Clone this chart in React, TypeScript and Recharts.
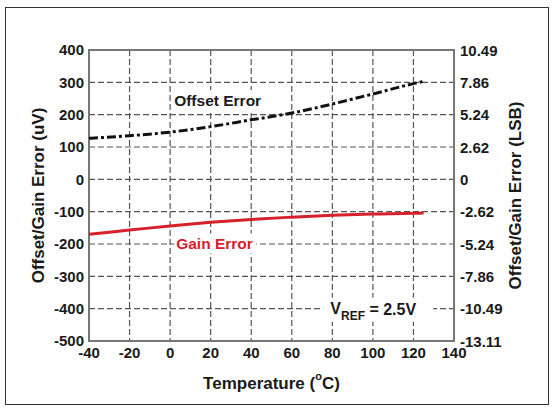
import React from 'react';
import {
  LineChart,
  Line,
  XAxis,
  YAxis,
  CartesianGrid,
  ReferenceArea,
  ReferenceDot,
} from 'recharts';

const temps = [-40, -20, 0, 20, 40, 60, 80, 100, 120, 125];
const offsetErr = [127, 135, 146, 163, 184, 205, 233, 264, 296, 303];
const gainErr = [-170, -157, -144, -133, -124, -117, -111, -107, -105, -104];
const xTicks = [-40, -20, 0, 20, 40, 60, 80, 100, 120, 140];
const yTicks = [-500, -400, -300, -200, -100, 0, 100, 200, 300, 400];
const rightTickLabels = ['-13.11', '-10.49', '-7.86', '-5.24', '-2.62', '0', '2.62', '5.24', '7.86', '10.49'];

const data = temps.map((t, i) => ({ t, offset: offsetErr[i], gain: gainErr[i] }));

const FONT = '"Liberation Sans", Arial, sans-serif';
const tickStyle = { fontFamily: FONT, fontWeight: 700, fontSize: 15, fill: '#1a1a1a' };

const LeftTitle = (props: any) => {
  const vb = props.viewBox || {};
  const cx = vb.x + 38;
  const cy = vb.y + vb.height / 2;
  return (
    <text x={cx} y={cy} transform={`rotate(-90 ${cx} ${cy})`} textAnchor="middle" dominantBaseline="central"
      style={{ fontFamily: FONT, fontWeight: 700, fontSize: 17, fill: '#1a1a1a' }}>
      Offset/Gain Error (uV)
    </text>
  );
};

const RightTitle = (props: any) => {
  const vb = props.viewBox || {};
  const cx = vb.x + 61;
  const cy = vb.y + vb.height / 2;
  return (
    <text x={cx} y={cy} transform={`rotate(-90 ${cx} ${cy})`} textAnchor="middle" dominantBaseline="central"
      style={{ fontFamily: FONT, fontWeight: 700, fontSize: 17, fill: '#1a1a1a' }}>
      Offset/Gain Error (LSB)
    </text>
  );
};

const BottomTitle = (props: any) => {
  const vb = props.viewBox || {};
  const cx = vb.x + vb.width / 2;
  const cy = vb.y + 42;
  return (
    <text x={cx} y={cy} textAnchor="middle" dominantBaseline="central"
      style={{ fontFamily: FONT, fontWeight: 700, fontSize: 17, fill: '#1a1a1a' }}>
      Temperature (<tspan fontSize={11} dy={-7}>o</tspan><tspan dy={7}>C)</tspan>
    </text>
  );
};

const RightTick = (p: any) => {
  const v = p.payload ? p.payload.value : 0;
  const label = rightTickLabels[yTicks.indexOf(v)];
  return (
    <text x={p.x} y={p.y} textAnchor="start" dominantBaseline="central" style={tickStyle}>
      {label}
    </text>
  );
};

const makeNote = (label: string, color: string, w: number) => (p: any) => (
  <g>
    <rect x={p.cx - 2} y={p.cy - 10} width={w} height={20} fill="#fff" />
    <text x={p.cx} y={p.cy} dominantBaseline="central"
      style={{ fontFamily: FONT, fontWeight: 700, fontSize: 15.5, fill: color }}>
      {label}
    </text>
  </g>
);

const VrefNote = (p: any) => (
  <g>
    <rect x={p.cx - 7} y={p.cy - 11} width={110} height={24} fill="#fff" />
    <text x={p.cx} y={p.cy} dominantBaseline="central"
      style={{ fontFamily: FONT, fontWeight: 700, fontSize: 16, fill: '#1a1a1a' }}>
      V<tspan fontSize={12} dy={7}>REF</tspan><tspan dy={-7}> = 2.5V</tspan>
    </text>
  </g>
);

export default function App() {
  return (
    <div style={{ position: 'absolute', left: 0, top: 0, width: 554, height: 412, background: '#fff' }}>
      <div style={{ position: 'absolute', left: 5, top: 7, width: 544, height: 398, border: '1.5px solid #333', boxSizing: 'border-box' }} />
      <LineChart width={554} height={412} data={data} margin={{ top: 50, right: 0, bottom: 0, left: 0 }}>
        <CartesianGrid yAxisId="left" stroke="#555" strokeWidth={1.2} strokeDasharray="6 3" />
        <XAxis dataKey="t" type="number" domain={[-40, 140]} ticks={xTicks} height={71}
          tickLine={false} axisLine={false} tickSize={3} tickMargin={3} tick={tickStyle}
          label={<BottomTitle />} />
        <YAxis yAxisId="left" type="number" domain={[-500, 400]} ticks={yTicks} width={89}
          tickLine={false} axisLine={false} tickSize={3} tickMargin={2} tick={tickStyle}
          label={<LeftTitle />} />
        <YAxis yAxisId="right" orientation="right" type="number" domain={[-500, 400]} allowDataOverflow={true}
          ticks={yTicks} width={100}
          tickLine={false} axisLine={false} tickSize={4} tickMargin={2} tick={<RightTick />}
          label={<RightTitle />} />
        <ReferenceArea yAxisId="left" x1={-40} x2={140} y1={-500} y2={400} fill="none" stroke="#777" strokeWidth={2} />
        <ReferenceDot yAxisId="left" x={2} y={245} r={0} shape={makeNote('Offset Error', '#1a1a1a', 92)} />
        <ReferenceDot yAxisId="left" x={3} y={-198} r={0} shape={makeNote('Gain Error', '#d6202c', 82)} />
        <ReferenceDot yAxisId="left" x={79} y={-400} r={0} shape={VrefNote} />
        <Line yAxisId="left" type="monotone" dataKey="gain" stroke="#d6202c" strokeWidth={3} dot={false} isAnimationActive={false} />
        <Line yAxisId="left" type="monotone" dataKey="offset" stroke="#111" strokeWidth={3} strokeDasharray="9 3 3 3" dot={false} isAnimationActive={false} />
      </LineChart>
    </div>
  );
}
